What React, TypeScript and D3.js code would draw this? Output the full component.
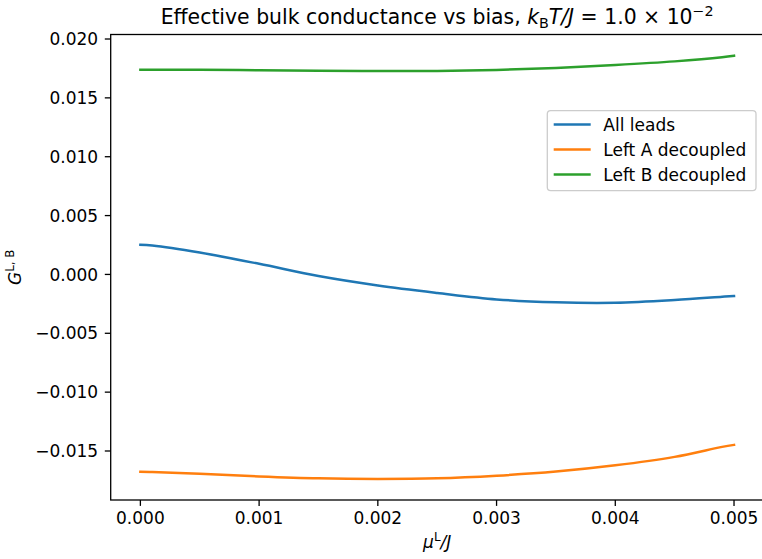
import React from "react";
import * as d3 from "d3";

const xValues = [0, 0.0001, 0.0005, 0.001, 0.0015, 0.002, 0.0025, 0.003, 0.0035, 0.004, 0.0045, 0.0049, 0.005];
const allLeads = [0.00252, 0.00246, 0.00186, 0.0009, -0.00014, -0.00094, -0.00157, -0.00212, -0.00237, -0.00241, -0.00218, -0.0019, -0.00183];
const leftA = [-0.01676, -0.01679, -0.01694, -0.01716, -0.01732, -0.01737, -0.01732, -0.0171, -0.01675, -0.01622, -0.0155, -0.01465, -0.01448];
const leftB = [0.01739, 0.01739, 0.01738, 0.01735, 0.01731, 0.01728, 0.01729, 0.01737, 0.01754, 0.01779, 0.0181, 0.01845, 0.01858];
const seriesNames = ["All leads", "Left A decoupled", "Left B decoupled"];
const seriesColors = ["#1f77b4", "#ff7f0e", "#2ca02c"];
const xTicks = [0, 0.001, 0.002, 0.003, 0.004, 0.005];
const yTicks = [-0.015, -0.01, -0.005, 0, 0.005, 0.01, 0.015, 0.02];

const W = 762, H = 559;
const L = 110.7, R = 763.7, T = 34.5, B = 500;
const FONT = "DejaVu Sans, sans-serif";
const FS = 17;

export default function App() {
  const x = d3.scaleLinear().domain([-0.00025, 0.00525]).range([L, R]);
  const y = d3.scaleLinear().domain([-0.019163, 0.020383]).range([B, T]);
  const fmt = (v: number) => {
    const s = Math.abs(v).toFixed(3);
    return (v < -1e-12 ? "\u2212" : "") + s;
  };
  const series = [allLeads, leftA, leftB];
  const line = d3
    .line<number>()
    .x((_, i) => x(xValues[i]))
    .y((d) => y(d))
    .curve(d3.curveCatmullRom.alpha(0.5));
  const tickLen = 5.9;
  const legX = 547.3, legY = 110.7, legW = 208.7, legH = 80;
  return (
    <svg width={W} height={H} style={{ position: "absolute", left: 0, top: 0, background: "#fff" }} fontFamily={FONT}>
      <rect x={0} y={0} width={W} height={H} fill="#fff" />
      {series.map((s, i) => (
        <path key={i} d={line(s) || ""} fill="none" stroke={seriesColors[i]} strokeWidth={2.5} strokeLinecap="square" strokeLinejoin="round" />
      ))}
      {/* spines */}
      <rect x={L} y={T} width={R - L} height={B - T} fill="none" stroke="#000" strokeWidth={1.3} />
      {/* x ticks */}
      {xTicks.map((t) => (
        <g key={t}>
          <line x1={x(t)} x2={x(t)} y1={B} y2={B + tickLen} stroke="#000" strokeWidth={1.3} />
          <text x={x(t)} y={B + 11.5} dy="0.76em" textAnchor="middle" fontSize={FS} fill="#000">
            {fmt(t)}
          </text>
        </g>
      ))}
      {/* y ticks */}
      {yTicks.map((t) => (
        <g key={t}>
          <line x1={L - tickLen} x2={L} y1={y(t)} y2={y(t)} stroke="#000" strokeWidth={1.3} />
          <text x={L - 12.5} y={y(t)} dy="0.36em" textAnchor="end" fontSize={FS} fill="#000">
            {fmt(t)}
          </text>
        </g>
      ))}
      {/* title */}
      <text x={(L + R) / 2} y={24} textAnchor="middle" fontSize={20.4} fill="#000">
        Effective bulk conductance vs bias,{" "}
        <tspan fontStyle="italic">k</tspan>
        <tspan fontSize={14.3} dy={3.5}>B</tspan>
        <tspan fontStyle="italic" dy={-3.5}>T/J</tspan>
        <tspan> = 1.0 × 10</tspan>
        <tspan fontSize={14.3} dy={-8.5}>−2</tspan>
      </text>
      {/* x label */}
      <text x={(L + R) / 2} y={548} textAnchor="middle" fontSize={FS} fill="#000">
        <tspan fontStyle="italic">μ</tspan>
        <tspan fontSize={11.9} dy={-7}>L</tspan>
        <tspan fontStyle="italic" dy={7}>/J</tspan>
      </text>
      {/* y label */}
      <text transform={`translate(${20.5},${(T + B) / 2}) rotate(-90)`} textAnchor="middle" fontSize={FS} fill="#000">
        <tspan fontStyle="italic">G</tspan>
        <tspan fontSize={11.9} dy={-7}>L, B</tspan>
      </text>
      {/* legend */}
      <rect x={legX} y={legY} width={legW} height={legH} rx={3.4} fill="#fff" fillOpacity={0.8} stroke="#ccc" strokeWidth={1.3} />
      {seriesNames.map((n, i) => {
        const ly = 124.5 + i * 25;
        return (
          <g key={n}>
            <line x1={553.7} x2={590.7} y1={ly} y2={ly} stroke={seriesColors[i]} strokeWidth={2.5} />
            <text x={603.3} y={ly} dy="0.36em" fontSize={FS} fill="#000">
              {n}
            </text>
          </g>
        );
      })}
    </svg>
  );
}
